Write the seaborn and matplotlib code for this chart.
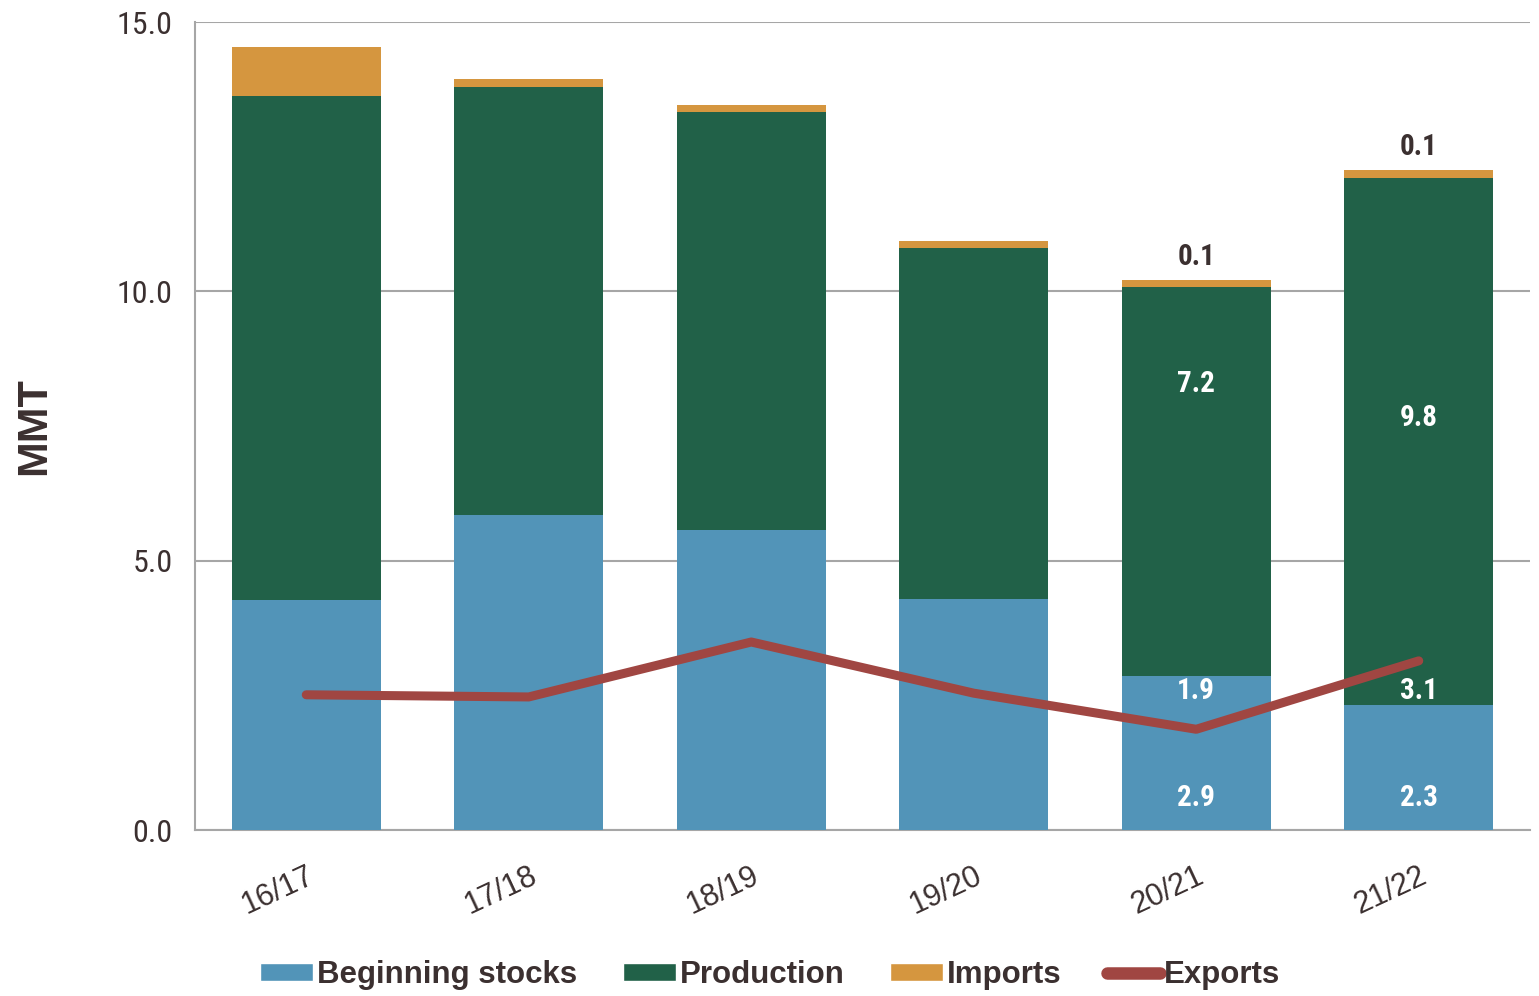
import matplotlib
matplotlib.use("Agg")
import matplotlib.pyplot as plt
from matplotlib import font_manager
from matplotlib.lines import Line2D
from matplotlib.patches import Patch
import seaborn as sns
import numpy as np
import pandas as pd

# ---- data ----
years = ["16/17", "17/18", "18/19", "19/20", "20/21", "21/22"]
beginning_stocks = [4.27, 5.85, 5.57, 4.29, 2.86, 2.32]
production = [9.36, 7.94, 7.76, 6.51, 7.22, 9.78]
imports = [0.90, 0.15, 0.13, 0.13, 0.13, 0.15]
exports = [2.51, 2.47, 3.49, 2.54, 1.87, 3.14]
yticks = [0.0, 5.0, 10.0, 15.0]

BLUE = "#5294B8"
GREEN = "#216148"
ORANGE = "#D5963F"
RED = "#A04642"
TXT = "#3B3030"

sns.set_theme(style="white")

def pick(names):
    avail = {f.name for f in font_manager.fontManager.ttflist}
    for n in names:
        if n in avail:
            return n
    return "DejaVu Sans"

COND = pick(["Liberation Sans Narrow", "Roboto Condensed", "Roboto"])
SANS = pick(["Liberation Sans", "Arial", "DejaVu Sans"])
plt.rcParams["font.family"] = [SANS, "DejaVu Sans"]

df = pd.DataFrame({"year": years, "stocks": beginning_stocks,
                   "production": production, "imports": imports})
df["cum_prod"] = df["stocks"] + df["production"]
df["cum_imp"] = df["cum_prod"] + df["imports"]

fig = plt.figure(figsize=(15.39, 9.96), dpi=100)
ax = fig.add_axes([195/1539, 1-830/996, (1530-195)/1539, (830-22)/996])

W = 0.67
sns.barplot(data=df, x="year", y="cum_imp", color=ORANGE, width=W, saturation=1,
            ax=ax, zorder=2, edgecolor="none")
sns.barplot(data=df, x="year", y="cum_prod", color=GREEN, width=W, saturation=1,
            ax=ax, zorder=3, edgecolor="none")
sns.barplot(data=df, x="year", y="stocks", color=BLUE, width=W, saturation=1,
            ax=ax, zorder=4, edgecolor="none")
sns.lineplot(x=np.arange(len(years)), y=exports, color=RED, lw=6.5, ax=ax,
             zorder=6, solid_capstyle="round", solid_joinstyle="round")

ax.set_xlim(-0.5, len(years) - 0.5)
ax.set_ylim(0, 15)
ax.set_yticks(yticks)
ax.set_yticklabels([f"{v:.1f}" for v in yticks], fontfamily=COND, fontsize=23, color=TXT)
ax.grid(axis="y", color="#A6A6A6", lw=1.5, zorder=0)
ax.set_axisbelow(True)

# x ticks at category boundaries
ax.set_xticks(np.arange(len(years)))
ax.set_xticklabels(years, rotation=25, fontsize=22, color=TXT, ha="right",
                   rotation_mode="anchor")
ax.tick_params(axis="x", length=0, pad=22)
ax.set_xticks(np.arange(len(years) + 1) - 0.5, minor=True)
ax.tick_params(axis="x", which="minor", length=10, width=1.5, color="#A6A6A6", direction="out")
ax.tick_params(axis="y", length=10, width=1.5, color="#A6A6A6", direction="out", pad=6)

for s in ["top", "right"]:
    ax.spines[s].set_visible(False)
for s in ["left", "bottom"]:
    ax.spines[s].set_color("#A6A6A6")
    ax.spines[s].set_linewidth(1.5)

ax.set_xlabel("")
ax.set_ylabel("MMT", fontsize=31, fontweight="bold", color=TXT, labelpad=45)

# data labels
lab_kw = dict(ha="center", va="center", fontfamily=COND, fontweight="bold", fontsize=21, zorder=8)
for i in [4, 5]:
    ax.text(i, 0.59, f"{beginning_stocks[i]:.1f}", color="white", **lab_kw)
    ax.text(i, beginning_stocks[i] + production[i] * (0.75 if i == 4 else 0.545),
            f"{production[i]:.1f}", color="white", **lab_kw)
    ax.text(i, 2.58, f"{exports[i]:.1f}", color="white", **lab_kw)
    ax.text(i, df["cum_imp"][i] + 0.43, f"{imports[i]:.1f}", color=TXT, **lab_kw)

handles = [Patch(facecolor=BLUE, label="Beginning stocks"),
           Patch(facecolor=GREEN, label="Production"),
           Patch(facecolor=ORANGE, label="Imports"),
           Line2D([0], [0], color=RED, lw=9, solid_capstyle="round", label="Exports")]
leg = fig.legend(handles=handles, loc="center", bbox_to_anchor=(770/1539, 1-975/996),
                 ncol=4, frameon=False, handlelength=1.7, handleheight=0.55,
                 handletextpad=0.12, columnspacing=1.45,
                 prop={"family": SANS, "weight": "bold", "size": 22.5})
for t in leg.get_texts():
    t.set_color(TXT)

fig.savefig("out.png", dpi=100)
